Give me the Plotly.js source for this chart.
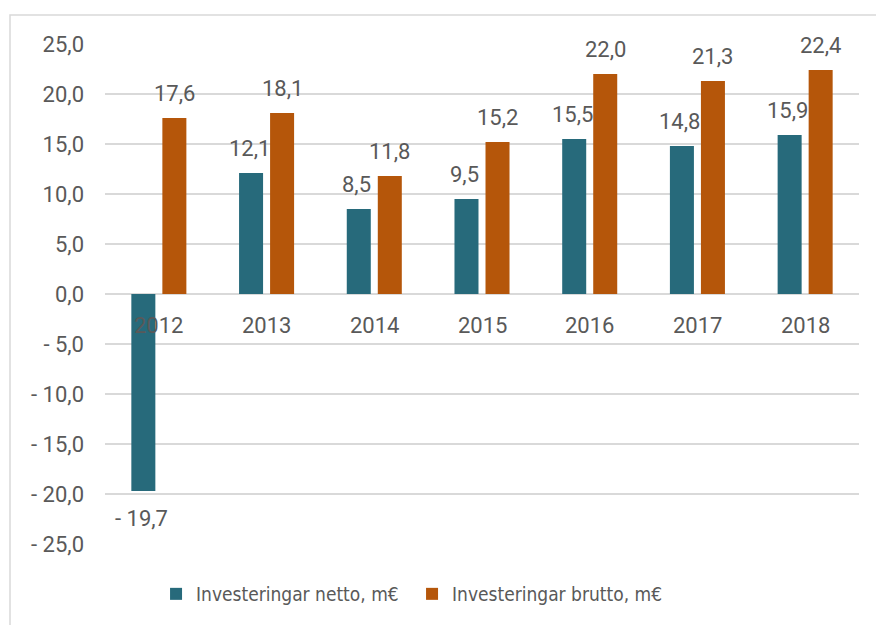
<!DOCTYPE html>
<html><head><meta charset="utf-8">
<script src="https://cdn.plot.ly/plotly-3.0.1.min.js"></script>
<style>html,body{margin:0;padding:0;background:#fff;}#chart{width:876px;height:625px;}</style>
</head><body><div id="chart"></div>
<script>
const years = ['2012','2013','2014','2015','2016','2017','2018'];
const netto = [-19.7, 12.1, 8.5, 9.5, 15.5, 14.8, 15.9];
const brutto = [17.6, 18.1, 11.8, 15.2, 22.0, 21.3, 22.4];
const nettoName = 'Investeringar netto, m€';
const bruttoName = 'Investeringar brutto, m€';
const yTickVals = [25, 20, 15, 10, 5, 0, -5, -10, -15, -20, -25];

const cNetto = '#276A7B';
const cBrutto = '#B5560A';
const txt = '#595959';
const grid = '#D9D9D9';

function fmt(v) {
  const s = Math.abs(v).toFixed(1).replace('.', ',');
  return v < 0 ? '- ' + s : s;
}

const traces = [
  {type:'bar', x: years, y: netto, name: nettoName, marker:{color:cNetto}, hoverinfo:'skip'},
  {type:'bar', x: years, y: brutto, name: bruttoName, marker:{color:cBrutto}, hoverinfo:'skip'}
];

// category serial number on the category x axis
const catPos = years.map((y, i) => i);

const slot = 31;
const ann = [];
[[netto, -1], [brutto, 1]].forEach(([arr, side]) => {
  arr.forEach((v, i) => {
    ann.push({
      x: catPos[i], y: v, xref:'x', yref:'y',
      text: fmt(v), showarrow:false,
      xshift: side * slot / 2 - (side < 0 ? 2 : 0),
      yshift: v >= 0 ? 25 : -27,
      yanchor:'middle', xanchor:'center',
      font:{family:'Roboto, sans-serif', size:22, color:txt}
    });
  });
});
years.forEach((y, i) => {
  ann.push({
    x: catPos[i], y: 0, xref:'x', yref:'y', text: y, showarrow:false,
    yshift: -31, yanchor:'middle', xanchor:'center',
    font:{family:'Roboto, sans-serif', size:22, color:txt}
  });
});

const layout = {
  width: 876, height: 625,
  margin: {l:105, r:17, t:44, b:81},
  paper_bgcolor:'#fff', plot_bgcolor:'#fff',
  barmode:'group', bargap:0.424, bargroupgap:0.226,
  showlegend:true,
  legend:{orientation:'h', x:0.0677, xanchor:'left', y:-0.1, yanchor:'middle',
    entrywidth:211,
    font:{family:'"DejaVu Sans Condensed", sans-serif', size:19, color:txt},
    itemclick:false, itemdoubleclick:false},
  xaxis:{type:'category', categoryorder:'array', categoryarray:years,
    range:[-0.5, years.length - 0.5], autorange:false,
    showline:false, showgrid:false, showticklabels:false, ticks:'', zeroline:false},
  yaxis:{range:[-25,25], autorange:false, tickvals:yTickVals, ticktext:yTickVals.map(fmt),
    showgrid:true, gridcolor:grid, gridwidth:1.5, zeroline:true, zerolinecolor:grid, zerolinewidth:1.5,
    showline:false, ticks:'', ticklabelstandoff:20,
    tickfont:{family:'Roboto, sans-serif', size:22, color:txt}},
  annotations: ann,
  shapes:[{type:'rect', xref:'paper', yref:'paper', x0:-0.126, x1:1.03, y0:-0.17, y1:1.058,
    line:{color:grid, width:1.5}, fillcolor:'rgba(0,0,0,0)', layer:'below'}]
};

Plotly.newPlot('chart', traces, layout, {displayModeBar:false, staticPlot:true});
</script></body></html>
